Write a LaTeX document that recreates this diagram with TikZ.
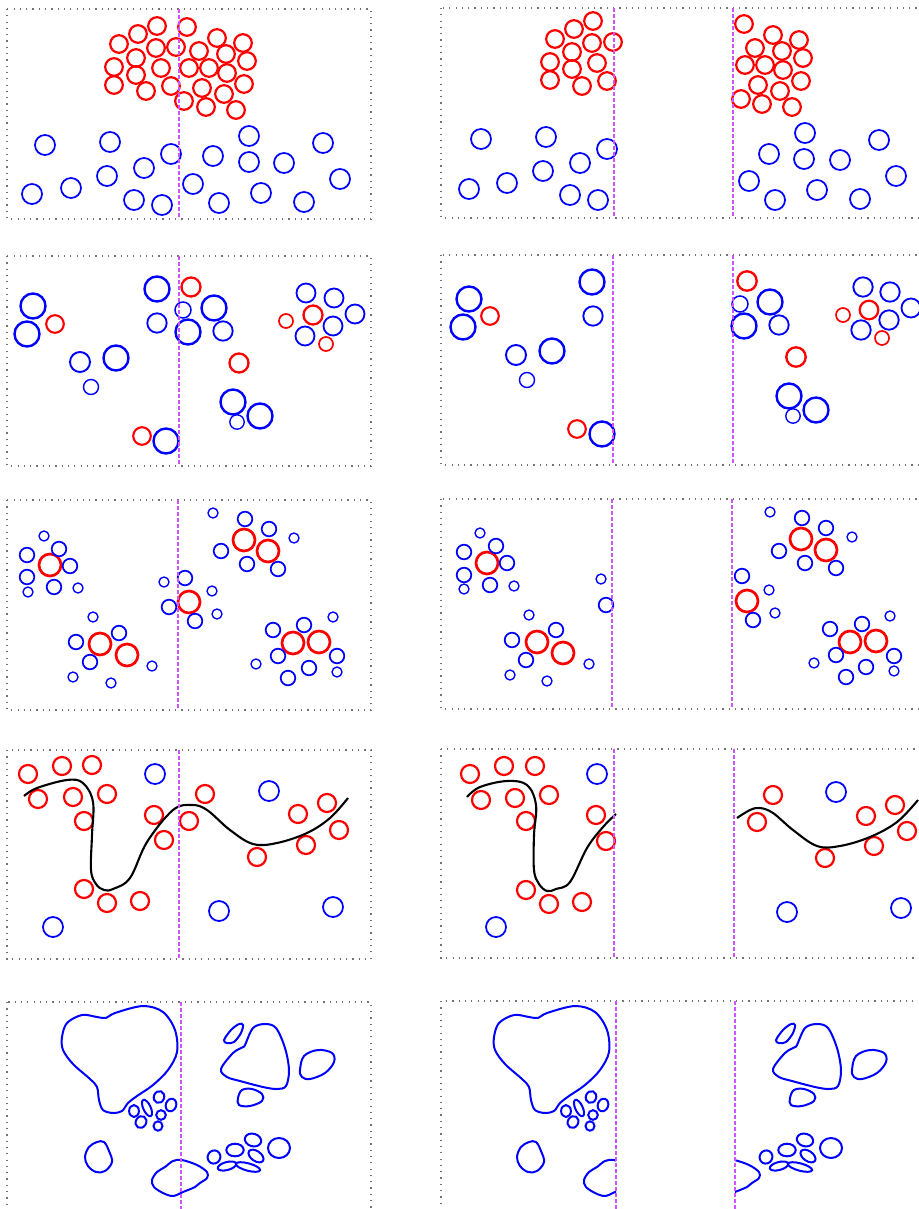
\documentclass[tikz,border=0pt]{standalone}
\usepackage{xcolor}
\usepackage{tikz}
\usetikzlibrary{calc}

\definecolor{cutclr}{RGB}{204,85,255}

\newcommand{\blobsfive}{%
  \draw[blob] plot[smooth cycle, tension=0.55] coordinates {(62,1037) (67,1023) (82,1015) (97,1017) (106,1018) (115,1013) (143,1006) (163,1012) (175,1030) (177,1052) (168,1070) (153,1085) (137,1096) (128,1103) (122,1111) (113,1113) (103,1110) (99,1100) (97,1087) (90,1079) (73,1064) (63,1050)};
  \draw[blob] plot[smooth cycle, tension=0.55] coordinates {(221,1069) (233,1053) (243,1047) (245,1045) (253,1028) (265,1024) (276,1028) (285,1048) (289,1070) (286,1086) (277,1089) (263,1087) (240,1081) (227,1077)};
  \draw[blob] plot[smooth cycle, tension=0.55] coordinates {(224,1040) (231,1030) (239,1024) (243,1025) (241,1033) (234,1042) (227,1043)};
  \draw[blob] plot[smooth cycle, tension=0.6] coordinates {(300,1070) (304,1056) (318,1050) (332,1053) (334,1062) (325,1073) (310,1079) (302,1077)};
  \draw[blob] plot[smooth cycle, tension=0.6] coordinates {(238,1098) (242,1090) (252,1089) (262,1094) (262,1101) (250,1106) (239,1105)};
  \draw[blob] plot[smooth cycle, tension=0.6] coordinates {(97,1142) (104,1142) (109,1151) (112,1162) (105,1171) (96,1172) (88,1166) (85,1157) (89,1147)};
  \draw[blob] plot[smooth cycle, tension=0.55] coordinates {(152,1180) (157,1172) (165,1167) (173,1161) (182,1160) (197,1165) (207,1172) (207,1178) (200,1183) (195,1187) (183,1192) (173,1196) (163,1193) (154,1187)};
  \draw[blob] (279,1148) ellipse [x radius=11pt, y radius=10pt];
  \foreach \x/\y/\a/\b/\t in {134/1111/4.9/6/0, 147/1108/3.7/8.9/25, 159/1097/5.2/6/-20, 171/1105/5.2/6.4/-20, 161/1115/4.8/4.8/0, 141/1122/5.2/6.2/-30, 158/1126/4.5/4.7/0,
      214/1157/6.3/6.7/-30, 235/1150/8.7/6.3/0, 253/1140/8.3/6.3/-15, 256/1156/8.5/5/-35, 227/1166/9.5/4/15, 248/1167/12.5/3.7/-15}
    \draw[blob] (\x,\y) ellipse [x radius=\a pt, y radius=\b pt, rotate=\t];
}

\begin{document}
\begin{tikzpicture}[x=1pt, y=-1pt,
  frame/.style={draw=black!55, line width=1.2pt, dash pattern=on 1.2pt off 5.1pt},
  cut/.style={draw=cutclr, line width=2.2pt, dash pattern=on 4pt off 2pt},
  redball/.style={draw=red, line width=2.2pt},
  blueball/.style={draw=blue, line width=1.75pt},
  blob/.style={draw=blue, line width=2pt},
  front/.style={draw=black, line width=2.1pt}]
\useasboundingbox (0,0) rectangle (918,1209);

\foreach \top/\bot in {9/219, 256/466, 500/710, 750/959, 1002/1222}
  \draw[frame] (7,\top) rectangle (371,\bot);
\foreach \top/\bot in {8/218, 255/465, 499/709, 749/958, 1001/1222}
  \draw[frame] (441,\top) rectangle (935,\bot);

% row 1
\foreach \x/\y in {157/26, 187/27, 138/34, 119/44, 156/48, 176/47, 217/38, 243/43, 199/51, 226/54, 136/58, 247/61, 114/67, 161/68, 189/68, 209/68, 227/73, 136/75, 114/85, 171/86, 202/88, 244/84, 146/91, 224/94, 184/101, 206/107, 236/110,
    593/21, 574/29, 555/39, 592/43, 613/42, 572/52, 550/62, 597/63, 572/69, 550/80, 607/81, 582/86,
    744/24, 773/35, 799/40, 755/48, 782/51, 803/58, 745/65, 765/65, 783/70, 801/81, 758/85, 780/91, 741/99, 762/104, 792/107}
  \draw[redball] (\x,\y) circle (8.8pt);
\foreach \x/\y in {45/145, 110/142, 249/136, 323/143, 171/154, 213/156, 249/162, 284/163, 144/168, 340/179, 107/176, 71/188, 193/184, 32/194, 261/193, 134/200, 162/205, 219/203, 304/202,
    481/139, 546/137, 607/149, 580/163, 543/171, 507/183, 469/189, 570/195, 598/200,
    805/133, 879/140, 769/154, 804/159, 840/160, 896/176, 749/181, 817/190, 775/200, 860/199}
  \draw[blueball] (\x,\y) circle (10pt);

% row 2
\foreach \x/\y/\r in {55/324/8.8, 191/287/9.5, 239/363/9.5, 142/436/8.8, 286/321/7, 313/315/9.5, 326/344/7,
    490/316/8.8, 577/429/8.8, 747/281/9.7, 796/357/9.7, 843/315/7, 869/310/9.3, 882/338/7}
  \draw[redball, line width=\r*0.24pt] (\x,\y) circle (\r pt);
\foreach \x/\y/\r in {33/306/12.5, 27/334/12.5, 80/362/10, 116/358/12.5, 91/387/7.5, 157/289/12.5, 157/323/9.7, 183/310/8, 188/332/12.5, 214/308/12.5, 223/331/9.7, 233/402/12.5, 237/422/7.2, 260/416/12.5, 166/441/12.5, 306/293/9.5, 334/298/9.5, 355/314/9.5, 333/326/9.5, 305/336/9.5,
    469/299/12.5, 463/327/12.5, 516/355/10, 552/351/12.5, 527/380/7.5, 592/282/12.5, 593/316/9.7, 602/434/12.5, 740/304/8, 744/326/12.5, 770/302/12.5, 779/325/9.7, 789/396/12.5, 793/416/7.2, 816/410/12.5, 863/287/9.7, 890/292/9.7, 911/308/9.5, 889/320/9.7, 861/330/9.7}
  \draw[blueball, line width=\r*0.19pt] (\x,\y) circle (\r pt);

% row 3
\foreach \x/\y in {50/565, 100/644, 127/655, 189/602, 244/540, 268/551, 293/643, 319/642,
    487/563, 537/642, 563/653, 747/601, 801/539, 826/550, 850/642, 876/641}
  \draw[redball, line width=2.7pt] (\x,\y) circle (11pt);
\foreach \x/\y in {27/555, 59/549, 70/566, 27/577, 54/587, 76/642, 119/633, 90/662, 185/578, 169/607, 195/621, 245/519, 269/529, 221/551, 247/564, 278/569, 273/630, 304/625, 278/656, 337/656, 309/668, 288/678,
    464/552, 496/546, 507/563, 464/575, 490/585, 512/640, 556/630, 526/660, 606/605, 742/576, 753/620, 802/518, 826/528, 779/551, 805/563, 836/568, 830/629, 862/624, 836/655, 894/656, 866/667, 846/677}
  \draw[blueball] (\x,\y) circle (7.3pt);
\foreach \x/\y in {44/536, 28/592, 78/588, 93/617, 152/666, 73/677, 111/683, 164/582, 212/591, 217/614, 213/513, 294/538, 333/617, 256/664, 337/672,
    480/533, 464/589, 514/586, 529/615, 589/664, 510/675, 547/681, 601/579, 769/590, 775/613, 770/512, 852/537, 890/616, 814/663, 894/671}
  \draw[blueball, line width=1.35pt] (\x,\y) circle (5pt);

% row 4
\foreach \x/\y in {28/774, 62/766, 92/765, 38/799, 73/797, 107/794, 84/821, 154/815, 164/840, 205/794, 189/821, 298/814, 327/803, 339/830, 306/845, 257/857, 84/889, 107/903, 140/901,
    470/774, 504/766, 535/766, 481/800, 515/798, 549/795, 526/821, 596/815, 606/841, 526/890, 549/904, 582/902, 773/795, 757/822, 866/816, 895/805, 907/831, 874/846, 825/858}
  \draw[redball] (\x,\y) circle (9pt);
\foreach \x/\y in {155/774, 269/791, 219/911, 53/927, 333/907, 597/774, 496/927, 836/792, 787/912, 901/908}
  \draw[blueball] (\x,\y) circle (10pt);
\draw[front] plot[smooth, tension=0.6] coordinates {(24,796) (37,788) (67,780) (83,783) (93,802) (92,835) (91,870) (96,884) (104,890) (113,889) (130,878) (147,842) (173,810) (192,805) (207,810) (230,830) (253,844) (277,843) (307,833) (330,818) (348,798)};
\draw[front] plot[smooth, tension=0.6] coordinates {(467,797) (480,787) (507,781) (527,785) (536,805) (534,835) (534,870) (539,884) (547,891) (556,889) (570,882) (587,848) (603,827) (616,814)};
\draw[front] plot[smooth, tension=0.6] coordinates {(737,818) (750,810) (760,808) (773,813) (793,830) (817,846) (840,846) (870,837) (897,822) (918,800)};

% row 5
\blobsfive
\begin{scope}
  \clip (441,990) rectangle (616,1222);
  \begin{scope}[shift={(432,0)}]
    \blobsfive
  \end{scope}
\end{scope}
\begin{scope}
  \clip (735,990) rectangle (935,1222);
  \begin{scope}[shift={(552,0)}]
    \blobsfive
  \end{scope}
\end{scope}

\foreach \top/\bot/\cx in {9/219/179, 256/466/179, 500/710/178, 750/959/179, 1002/1222/181}
  \draw[cut] (\cx,\top) -- (\cx,\bot);
\foreach \top/\bot/\ca/\cb in {8/218/614/733, 255/465/613/733, 499/709/612/732, 749/958/614/734, 1001/1222/616/735}{
  \draw[cut] (\ca,\top) -- (\ca,\bot);
  \draw[cut] (\cb,\top) -- (\cb,\bot);
}
\end{tikzpicture}
\end{document}
